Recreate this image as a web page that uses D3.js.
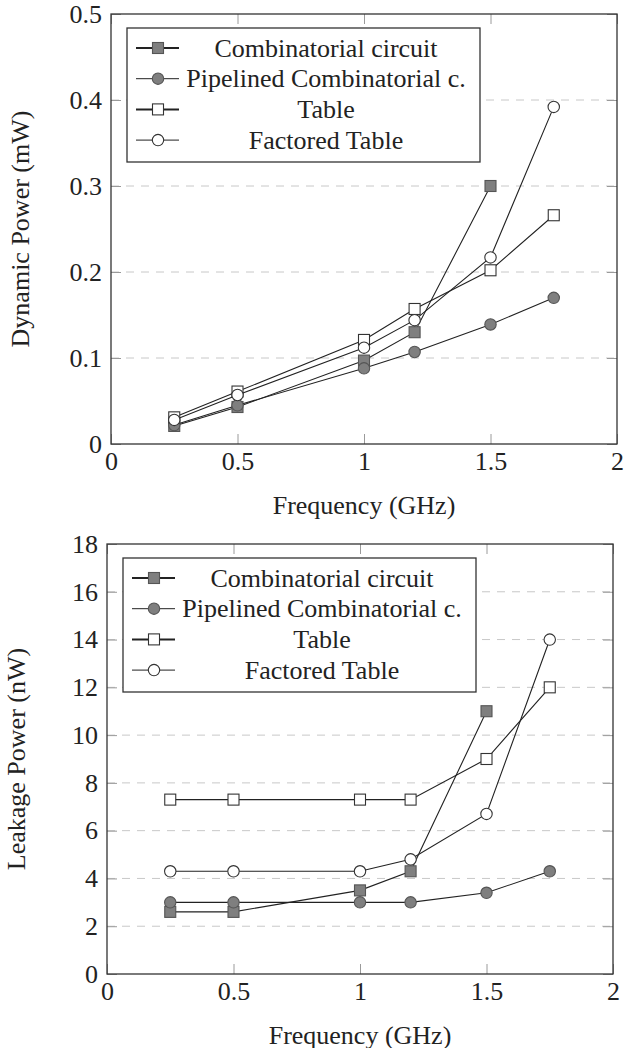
<!DOCTYPE html>
<html>
<head>
<meta charset="utf-8">
<script src="https://cdn.jsdelivr.net/npm/d3@7"></script>
</head>
<body style="margin:0; background:#fff">
<div id="chart"></div>
<script>
// frequencies (GHz) shared by every series
var freqs = [0.25, 0.5, 1, 1.2, 1.5, 1.75];
var seriesNames = ["Combinatorial circuit", "Pipelined Combinatorial c.", "Table", "Factored Table"];

// dynamic power (mW)
var dynCombinatorial = [0.021, 0.043, 0.097, 0.130, 0.300];
var dynPipelined = [0.022, 0.045, 0.088, 0.107, 0.139, 0.170];
var dynTable = [0.031, 0.061, 0.121, 0.157, 0.202, 0.266];
var dynFactored = [0.028, 0.057, 0.112, 0.144, 0.217, 0.392];

// leakage power (nW)
var leakCombinatorial = [2.6, 2.6, 3.5, 4.3, 11];
var leakPipelined = [3, 3, 3, 3, 3.4, 4.3];
var leakTable = [7.3, 7.3, 7.3, 7.3, 9, 12];
var leakFactored = [4.3, 4.3, 4.3, 4.8, 6.7, 14];

var xTicks = [0, 0.5, 1, 1.5, 2];
var dynTicks = [0, 0.1, 0.2, 0.3, 0.4, 0.5];
var leakTicks = [0, 2, 4, 6, 8, 10, 12, 14, 16, 18];

var markers = ["squareFilled", "circleFilled", "square", "circle"];
var legendWidths = [2, 1, 2, 1];

var svg = d3.select("#chart").append("svg")
    .attr("width", 635)
    .attr("height", 1048);

// every label goes through here so the font is set on the element itself
function styleText(sel) {
    return sel.style("font-family", "'Liberation Serif'")
        .style("font-size", "26px")
        .style("fill", "#222");
}

function drawMarker(sel, kind, cx, cy) {
    var filled = kind.indexOf("Filled") > -1;
    var m;
    if (kind.indexOf("square") === 0) {
        m = sel.append("rect")
            .attr("x", cx - 5.5).attr("y", cy - 5.5)
            .attr("width", 11).attr("height", 11);
    } else {
        m = sel.append("circle")
            .attr("cx", cx).attr("cy", cy).attr("r", 5.7);
    }
    m.attr("fill", filled ? "#7f7f7f" : "#fff")
        .attr("stroke", filled ? "#555" : "#333")
        .attr("stroke-width", 1.1);
}

PowerChart = function(_left, _top, _series, _yTicks, _yLabel, _labelX){
    this.left = _left;
    this.top = _top;
    this.series = _series;
    this.yTicks = _yTicks;
    this.yLabel = _yLabel;
    this.labelX = _labelX;
    this.initVis();
};

PowerChart.prototype.initVis = function(){
    var vis = this;
    vis.width = 506;
    vis.height = 430;

    vis.g = svg.append("g")
        .attr("transform", "translate(" + vis.left + "," + vis.top + ")");

    vis.x = d3.scaleLinear().domain([0, 2]).range([0, vis.width]);
    vis.y = d3.scaleLinear().domain(d3.extent(vis.yTicks)).range([vis.height, 0]);

    // dashed horizontal grid
    vis.g.selectAll(".grid")
        .data(vis.yTicks.slice(1, -1))
        .enter().append("line")
        .attr("class", "grid")
        .attr("x1", 0).attr("x2", vis.width)
        .attr("y1", function(d) { return vis.y(d); })
        .attr("y2", function(d) { return vis.y(d); })
        .attr("stroke", "#c8c8c8")
        .attr("stroke-dasharray", "8,7");

    var fmt = d3.format("");
    vis.g.append("g").attr("class", "axis")
        .attr("transform", "translate(0," + vis.height + ")")
        .call(d3.axisBottom(vis.x).tickValues(xTicks).tickSize(-10).tickPadding(8).tickFormat(fmt));
    vis.g.append("g").attr("class", "axis")
        .call(d3.axisLeft(vis.y).tickValues(vis.yTicks).tickSize(-10).tickPadding(9).tickFormat(fmt));
    vis.g.append("g").attr("class", "axis")
        .call(d3.axisTop(vis.x).tickValues(xTicks).tickSize(-10).tickFormat(""));
    vis.g.append("g").attr("class", "axis")
        .attr("transform", "translate(" + vis.width + ",0)")
        .call(d3.axisRight(vis.y).tickValues(vis.yTicks).tickSize(-10).tickFormat(""));
    vis.g.selectAll(".axis .domain").remove();
    vis.g.selectAll(".axis .tick line").attr("stroke", "#9a9a9a");
    styleText(vis.g.selectAll(".axis .tick text"));

    vis.g.append("rect")
        .attr("width", vis.width)
        .attr("height", vis.height)
        .attr("fill", "none")
        .attr("stroke", "#333")
        .attr("stroke-width", 1.3);

    // axis titles
    styleText(vis.g.append("text"))
        .attr("x", vis.width / 2)
        .attr("y", vis.height + 61)
        .attr("text-anchor", "middle")
        .attr("dominant-baseline", "central")
        .text("Frequency (GHz)");

    styleText(svg.append("text"))
        .attr("transform", "translate(" + vis.labelX + "," + (vis.top + vis.height / 2) + ") rotate(-90)")
        .attr("text-anchor", "middle")
        .attr("dominant-baseline", "central")
        .text(vis.yLabel);

    vis.updateVis();
};

PowerChart.prototype.updateVis = function(){
    var vis = this;

    var line = d3.line()
        .x(function(d, i) { return vis.x(freqs[i]); })
        .y(function(d) { return vis.y(d); });

    vis.series.forEach(function(values, k) {
        var sg = vis.g.append("g");
        sg.append("path")
            .attr("d", line(values))
            .attr("fill", "none")
            .attr("stroke", "#222")
            .attr("stroke-width", 1.1);
        values.forEach(function(v, i) {
            drawMarker(sg, markers[k], vis.x(freqs[i]), vis.y(v));
        });
    });

    // legend
    var lg = vis.g.append("g").attr("transform", "translate(16,14)");
    lg.append("rect")
        .attr("width", 353)
        .attr("height", 134)
        .attr("fill", "#fff")
        .attr("stroke", "#333")
        .attr("stroke-width", 1.3);
    seriesNames.forEach(function(name, k) {
        var cy = 20 + k * 30.7;
        lg.append("line")
            .attr("x1", 9).attr("x2", 52)
            .attr("y1", cy).attr("y2", cy)
            .attr("stroke", "#222")
            .attr("stroke-width", legendWidths[k]);
        drawMarker(lg, markers[k], 31, cy);
        styleText(lg.append("text"))
            .attr("x", 199)
            .attr("y", cy)
            .attr("text-anchor", "middle")
            .attr("dominant-baseline", "central")
            .text(name);
    });
};

new PowerChart(111, 14, [dynCombinatorial, dynPipelined, dynTable, dynFactored],
    dynTicks, "Dynamic Power (mW)", 20);
new PowerChart(107, 544, [leakCombinatorial, leakPipelined, leakTable, leakFactored],
    leakTicks, "Leakage Power (nW)", 16);
</script>
</body>
</html>
